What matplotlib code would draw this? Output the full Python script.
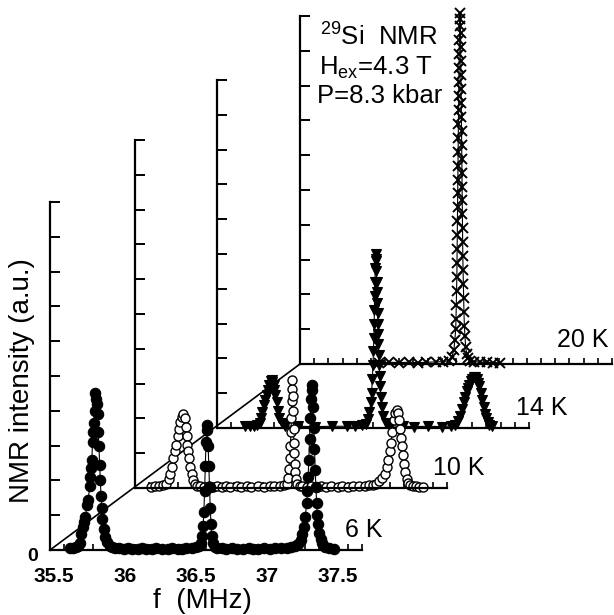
import numpy as np
import matplotlib
matplotlib.use("Agg")
import matplotlib.pyplot as plt
from matplotlib.lines import Line2D
from matplotlib.ticker import MultipleLocator
from matplotlib import transforms

plt.rcParams['font.family'] = ['Liberation Sans', 'DejaVu Sans']
plt.rcParams['mathtext.default'] = 'regular'

# 29Si NMR spectra, intensity in axis units (0..10), frequency in MHz
freq_6k = [35.64, 35.66, 35.68, 35.70, 35.71, 35.72, 35.73, 35.74, 35.75, 35.76,
           35.77, 35.78, 35.785, 35.79, 35.795, 35.80, 35.805, 35.81, 35.815, 35.82,
           35.825, 35.83, 35.835, 35.84, 35.845, 35.85, 35.855, 35.86, 35.865, 35.87,
           35.88, 35.89, 35.90, 35.92, 35.94, 35.96, 35.99, 36.02, 36.05, 36.08,
           36.12, 36.15, 36.18, 36.22, 36.25, 36.29, 36.33, 36.36, 36.40, 36.43,
           36.46, 36.50, 36.53, 36.55, 36.565, 36.575, 36.58, 36.585, 36.59, 36.595,
           36.60, 36.605, 36.61, 36.615, 36.62, 36.625, 36.63, 36.635, 36.64, 36.65,
           36.66, 36.68, 36.71, 36.74, 36.78, 36.82, 36.86, 36.90, 36.93, 36.97,
           37.01, 37.05, 37.09, 37.13, 37.17, 37.20, 37.23, 37.25, 37.27, 37.28,
           37.29, 37.30, 37.31, 37.315, 37.32, 37.325, 37.33, 37.335, 37.34, 37.345,
           37.35, 37.355, 37.36, 37.365, 37.37, 37.375, 37.38, 37.385, 37.39, 37.40,
           37.41, 37.42, 37.44, 37.47, 37.50]
int_6k = [0.05, 0.06, 0.08, 0.12, 0.20, 0.45, 0.65, 0.80, 0.95, 1.30,
          1.45, 1.85, 2.10, 2.35, 2.60, 3.10, 3.40, 3.65, 4.00, 4.50,
          4.35, 4.20, 3.90, 3.40, 3.00, 2.45, 2.00, 1.55, 1.20, 0.90,
          0.60, 0.38, 0.22, 0.12, 0.08, 0.06, 0.05, 0.04, 0.05, 0.03,
          0.04, 0.05, 0.03, 0.04, 0.05, 0.03, 0.04, 0.05, 0.04, 0.03,
          0.05, 0.06, 0.08, 0.12, 0.20, 0.40, 0.70, 1.10, 1.70, 2.40,
          3.10, 3.60, 3.45, 3.00, 2.40, 1.80, 1.20, 0.75, 0.40, 0.20,
          0.10, 0.06, 0.05, 0.04, 0.05, 0.03, 0.04, 0.05, 0.04, 0.03,
          0.05, 0.04, 0.05, 0.06, 0.07, 0.08, 0.12, 0.18, 0.30, 0.45,
          0.65, 0.95, 1.35, 1.70, 2.10, 2.60, 3.20, 3.80, 4.35, 4.75,
          4.60, 4.10, 3.50, 2.90, 2.30, 1.80, 1.35, 1.00, 0.75, 0.50,
          0.32, 0.20, 0.10, 0.06, 0.04]

freq_10k = [35.61, 35.64, 35.67, 35.70, 35.72, 35.74, 35.75, 35.76, 35.77, 35.78,
            35.79, 35.80, 35.81, 35.82, 35.83, 35.84, 35.85, 35.86, 35.865, 35.87,
            35.875, 35.88, 35.89, 35.90, 35.91, 35.92, 35.94, 35.96, 35.99, 36.02,
            36.05, 36.08, 36.11, 36.14, 36.17, 36.22, 36.25, 36.29, 36.32, 36.37,
            36.41, 36.45, 36.48, 36.52, 36.55, 36.57, 36.58, 36.585, 36.59, 36.595,
            36.60, 36.603, 36.605, 36.608, 36.61, 36.613, 36.615, 36.618, 36.62, 36.623,
            36.626, 36.63, 36.635, 36.645, 36.66, 36.68, 36.71, 36.74, 36.78, 36.81,
            36.85, 36.88, 36.93, 36.96, 37.00, 37.04, 37.08, 37.12, 37.15, 37.18,
            37.20, 37.22, 37.24, 37.26, 37.275, 37.285, 37.295, 37.305, 37.315, 37.325,
            37.335, 37.345, 37.355, 37.365, 37.372, 37.378, 37.385, 37.39, 37.397, 37.405,
            37.415, 37.425, 37.44, 37.46, 37.48, 37.50, 37.53]
int_10k = [0.04, 0.05, 0.06, 0.08, 0.12, 0.25, 0.40, 0.60, 0.85, 1.05,
           1.25, 1.50, 1.70, 1.90, 2.05, 2.12, 2.00, 1.75, 1.50, 1.25,
           1.05, 0.85, 0.60, 0.40, 0.22, 0.12, 0.07, 0.05, 0.04, 0.05,
           0.04, 0.05, 0.04, 0.05, 0.04, 0.05, 0.04, 0.05, 0.04, 0.05,
           0.04, 0.05, 0.05, 0.06, 0.08, 0.12, 0.30, 0.55, 0.85, 1.20,
           1.60, 2.00, 2.50, 2.85, 3.10, 2.65, 2.20, 1.70, 1.30, 1.00,
           0.70, 0.45, 0.25, 0.12, 0.07, 0.05, 0.04, 0.05, 0.04, 0.05,
           0.04, 0.05, 0.04, 0.05, 0.04, 0.05, 0.06, 0.07, 0.08, 0.10,
           0.12, 0.20, 0.30, 0.40, 0.60, 0.80, 1.05, 1.30, 1.60, 1.95,
           2.15, 2.25, 2.15, 1.95, 1.70, 1.45, 1.20, 0.95, 0.70, 0.45,
           0.25, 0.14, 0.08, 0.06, 0.05, 0.04, 0.04]

freq_14k = [35.70, 35.73, 35.76, 35.78, 35.80, 35.81, 35.82, 35.83, 35.84, 35.85,
            35.86, 35.87, 35.88, 35.885, 35.89, 35.90, 35.905, 35.91, 35.92, 35.93,
            35.94, 35.955, 35.98, 36.07, 36.19, 36.31, 36.42, 36.47, 36.52, 36.55,
            36.565, 36.575, 36.585, 36.59, 36.595, 36.60, 36.603, 36.606, 36.608, 36.61,
            36.612, 36.614, 36.616, 36.618, 36.62, 36.622, 36.624, 36.626, 36.628, 36.63,
            36.632, 36.634, 36.636, 36.638, 36.64, 36.643, 36.646, 36.65, 36.655, 36.66,
            36.67, 36.69, 36.72, 36.81, 36.89, 36.99, 37.09, 37.15, 37.18, 37.20,
            37.215, 37.23, 37.24, 37.25, 37.26, 37.27, 37.28, 37.29, 37.30, 37.31,
            37.32, 37.33, 37.34, 37.35, 37.36, 37.37, 37.38, 37.39, 37.40, 37.41,
            37.42, 37.44]
int_14k = [0.05, 0.05, 0.06, 0.08, 0.15, 0.30, 0.45, 0.65, 0.80, 0.95,
           1.10, 1.25, 1.35, 1.38, 1.33, 1.25, 1.10, 0.95, 0.75, 0.50,
           0.30, 0.15, 0.06, 0.05, 0.04, 0.05, 0.05, 0.06, 0.08, 0.12,
           0.25, 0.45, 0.75, 1.00, 1.40, 1.80, 2.20, 2.60, 3.00, 3.40,
           3.80, 4.20, 4.60, 4.85, 5.00, 4.80, 4.50, 4.20, 3.90, 3.60,
           3.30, 3.00, 2.70, 2.40, 2.10, 1.80, 1.50, 1.20, 0.90, 0.60,
           0.35, 0.15, 0.06, 0.05, 0.04, 0.05, 0.04, 0.06, 0.10, 0.20,
           0.35, 0.55, 0.75, 0.90, 1.05, 1.15, 1.25, 1.35, 1.42, 1.47,
           1.47, 1.40, 1.30, 1.20, 1.00, 0.80, 0.60, 0.40, 0.28, 0.18,
           0.10, 0.06]

freq_20k = [36.06, 36.13, 36.20, 36.27, 36.33, 36.39, 36.46, 36.51, 36.55, 36.57,
            36.585, 36.592, 36.598, 36.600, 36.602, 36.604, 36.606, 36.607, 36.608, 36.609,
            36.610, 36.611, 36.612, 36.613, 36.614, 36.615, 36.616, 36.617, 36.618, 36.619,
            36.620, 36.621, 36.622, 36.624, 36.626, 36.628, 36.630, 36.632, 36.633, 36.634,
            36.635, 36.636, 36.637, 36.638, 36.639, 36.640, 36.641, 36.642, 36.643, 36.644,
            36.645, 36.646, 36.647, 36.648, 36.650, 36.652, 36.654, 36.656, 36.659, 36.663,
            36.668, 36.675, 36.685, 36.70, 36.73, 36.77, 36.82, 36.86, 36.91]
int_20k = [0.04, 0.05, 0.04, 0.05, 0.04, 0.05, 0.06, 0.07, 0.10, 0.20,
           0.40, 0.70, 1.00, 1.30, 1.70, 2.10, 2.50, 2.90, 3.30, 3.70,
           4.10, 4.50, 4.90, 5.30, 5.70, 6.10, 6.50, 6.90, 7.30, 7.70,
           8.10, 8.50, 8.90, 9.30, 9.70, 10.1, 9.90, 9.50, 9.10, 8.70,
           8.30, 7.90, 7.50, 7.10, 6.70, 6.30, 5.90, 5.50, 5.10, 4.70,
           4.30, 3.90, 3.50, 3.10, 2.70, 2.30, 1.90, 1.50, 1.10, 0.80,
           0.50, 0.30, 0.18, 0.10, 0.07, 0.05, 0.05, 0.04, 0.04]

temps = ['6 K', '10 K', '14 K', '20 K']
xtick_labels = ['35.5', '36', '36.5', '37', '37.5']
xtick_values = [35.5, 36.0, 36.5, 37.0, 37.5]

W, H = 614, 615
fig = plt.figure(figsize=(W / 100, H / 100), dpi=100)


def px(x, y):
    return x / W, 1 - y / H


# panel origins (pixels) and sizes, front to back
origins = [(50, 550), (135, 488), (217, 428), (300, 364)]
pw, ph = 312, 348
series = [
    (freq_6k, int_6k, dict(marker='o', ms=7.5, mfc='k', mec='k', mew=0.8)),
    (freq_10k, int_10k, dict(marker='o', ms=6.5, mfc='white', mec='k', mew=1.0)),
    (freq_14k, int_14k, dict(marker='v', ms=7.5, mfc='k', mec='k', mew=0.8)),
    (freq_20k, int_20k, dict(marker='x', ms=7, mec='k', mew=1.4)),
]
label_pos = [(345, 530), (433, 468), (516, 408), (557, 340)]

# diagonal "depth" line through the panel origins
fig.add_artist(Line2D([px(*origins[0])[0], px(*origins[-1])[0]],
                      [px(*origins[0])[1], px(*origins[-1])[1]],
                      transform=fig.transFigure, color='k', lw=1.2, zorder=-1))

axes = []
for i in range(3, -1, -1):  # back panels first so front ones sit on top
    x0, y0 = origins[i]
    l, b = px(x0, y0)
    ax = fig.add_axes([l, b, pw / W, ph / H])
    ax.patch.set_visible(False)
    for s in ['top', 'right']:
        ax.spines[s].set_visible(False)
    for s in ['left', 'bottom']:
        ax.spines[s].set_linewidth(1.6)
    ax.set_xlim(35.5, 37.7)
    ax.set_ylim(0, 10)
    ax.xaxis.set_minor_locator(MultipleLocator(0.1))
    ax.set_yticks(range(11))
    ax.tick_params(axis='x', which='both', direction='in', length=4, width=1.2)
    ax.tick_params(axis='y', which='both', direction='in', length=7, width=1.4)
    f, inten, style = series[i]
    ax.plot(f, inten, color='k', lw=0.8, clip_on=False, **style)
    if i == 0:
        ax.set_xticks(xtick_values, labels=xtick_labels)
        ax.tick_params(axis='x', which='major', labelsize=15, pad=12)
        for lab in ax.get_xticklabels():
            lab.set_fontweight('bold')
        ax.set_yticklabels([])
        ax.annotate('0', xy=(0, 0), xycoords='axes fraction', xytext=(-9, -5),
                    textcoords='offset points', ha='right', va='center',
                    fontsize=14, fontweight='bold')
    else:
        ax.set_xticks(xtick_values)
        ax.set_xticklabels([])
        ax.set_yticklabels([])
    axes.append(ax)

front = axes[-1]
shift = transforms.ScaledTranslation(4 / 100, 0, fig.dpi_scale_trans)
for lab in front.get_xticklabels():
    lab.set_transform(lab.get_transform() + shift)

for t, (lx, ly) in zip(temps, label_pos):
    fig.text(*px(lx, ly), t, fontsize=18, ha='left', va='center')

fig.text(*px(379, 37), r'$^{29}$Si  NMR', fontsize=18.5, ha='center', va='center')
fig.text(*px(376, 68), r'H$_{ex}$=4.3 T', fontsize=18.5, ha='center', va='center')
fig.text(*px(380, 96), 'P=8.3 kbar', fontsize=18.5, ha='center', va='center')

fig.text(*px(22, 381), 'NMR intensity (a.u.)', fontsize=20, rotation=90,
         ha='center', va='center')
fig.text(*px(202, 601), 'f  (MHz)', fontsize=20, ha='center', va='center')

fig.savefig('out.png', dpi=100)
